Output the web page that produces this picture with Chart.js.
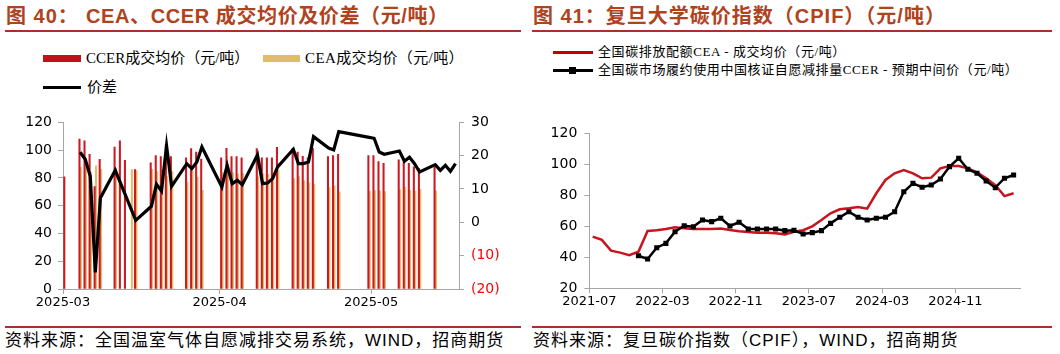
<!DOCTYPE html>
<html><head><meta charset="utf-8">
<script src="https://cdn.jsdelivr.net/npm/chart.js@4.4.1/dist/chart.umd.min.js"></script>
<style>
html,body{margin:0;padding:0;background:#fff;width:1060px;height:354px;overflow:hidden;position:relative;}
.abs{position:absolute;white-space:nowrap;}
.title{font-family:"Liberation Sans","Noto Sans CJK SC",sans-serif;font-weight:bold;font-size:20px;color:#B0421E;letter-spacing:1px;top:4px;line-height:24px;}
.rule{position:absolute;height:2px;background:#A8322A;}
.foot{font-family:"Liberation Sans","Noto Sans CJK SC",sans-serif;font-size:17px;color:#000;top:330px;line-height:22px;letter-spacing:1px;}
.lg{font-family:"Liberation Serif","Noto Sans CJK SC",serif;color:#000;}
.sw{position:absolute;}
canvas{position:absolute;}
</style>
</head><body>
<div class="abs title" style="left:6px;">图 40：</div>
<div class="abs title" style="left:86px;letter-spacing:0.6px;">CEA、CCER 成交均价及价差（元/吨）</div>
<div class="abs title" style="left:533px;">图 41：复旦大学碳价指数（CPIF）（元/吨）</div>
<div class="rule" style="left:5px;top:30px;width:516px;"></div>
<div class="rule" style="left:532px;top:30px;width:520px;"></div>

<!-- left legend -->
<div class="sw" style="left:43px;top:55px;width:38px;height:7px;background:#C0101A;"></div>
<div class="abs lg" style="left:86px;top:48px;font-size:15px;line-height:20px;">CCER成交均价（元/吨）</div>
<div class="sw" style="left:263px;top:55px;width:37px;height:7px;background:#E0BC6A;"></div>
<div class="abs lg" style="left:305px;top:48px;font-size:15px;line-height:20px;letter-spacing:0.4px;">CEA成交均价（元/吨）</div>
<div class="sw" style="left:43px;top:86px;width:38px;height:3px;background:#000;"></div>
<div class="abs lg" style="left:87px;top:77px;font-size:15px;line-height:20px;">价差</div>

<!-- right legend -->
<div class="sw" style="left:553px;top:51px;width:40px;height:3px;background:#C00000;"></div>
<div class="abs lg" style="left:598px;top:43px;font-size:13px;line-height:18px;letter-spacing:0.6px;">全国碳排放配额CEA - 成交均价（元/吨）</div>
<div class="sw" style="left:553px;top:69px;width:40px;height:3px;background:#000;"></div>
<div class="sw" style="left:569px;top:67px;width:7px;height:7px;background:#000;"></div>
<div class="abs lg" style="left:598px;top:61px;font-size:13px;line-height:18px;letter-spacing:0.6px;">全国碳市场履约使用中国核证自愿减排量CCER - 预期中间价（元/吨）</div>

<canvas id="c1" width="530" height="215" style="left:0px;top:100px;"></canvas>
<canvas id="c2" width="530" height="205" style="left:530px;top:110px;"></canvas>

<div class="rule" style="left:5px;top:326px;width:516px;height:1.5px;"></div>
<div class="rule" style="left:532px;top:326px;width:520px;height:1.5px;"></div>
<div class="abs foot" style="left:5px;">资料来源：全国温室气体自愿减排交易系统，WIND，招商期货</div>
<div class="abs foot" style="left:533px;">资料来源：复旦碳价指数（CPIF），WIND，招商期货</div>

<script>
// ---------- Figure 40 data (x = day position counted from 2025-03-01) ----------
const tradeDayPos = [0.4, 3.4, 4.4, 5.4, 6.4, 7.4, 10.35, 11.4, 12.4, 13.5, 14.4, 17.5, 18.5, 19.5, 20.5, 21.5,
  24.5, 25.5, 26.5, 27.5, 31.45, 32.5, 33.5, 34.5, 35.5, 38.5, 39.5, 40.5, 41.5, 42.5, 45.6, 46.6, 47.6, 48.6, 49.6,
  52.6, 53.6, 54.6, 60.6, 61.6, 62.6, 63.6, 66.6, 67.6, 68.6, 69.6, 70.6, 73.7];
const ccerPrice = [80.8, 108, 106.6, 97, 73.7, 93.4, 102.2, 106.6, 92.6, null, 85.9, 90.9, 96, 95.3, 104, 95.3,
  94.5, 101, 98.6, 93.6, 94.5, 101.3, 95.3, 95.3, 94.5, 101, 94.5, 94.5, 94.5, 102, 101.3, 98.6, 95.5, 94.5, 101.3,
  95.3, 96, 97, 96, 96, 91.7, 90.5, 92.9, 91.7, 90.5, 88, 86.9, 88];
const ceaPrice = [null, 87.6, 87.7, 84, 88.7, 86.1, 86.6, null, null, 86, 85.3, 86.1, 84.6, 85.9, 81, 84.5,
  76.9, 84.9, 80.5, 71, 83.9, 84.2, 83.7, 82.7, 83.2, 80.8, 82.9, 82.7, 81.4, 85.4, 79.4, 81, 77.9, 76.4, 75.6,
  73, 74.3, 69.8, 70.5, 70.8, 70.6, 70.1, 71.5, 73.4, 71, 70.4, 71.8, 70.7];
const spreadDayPos = [3.4, 4.4, 5.4, 6.4, 7.4, 10.35, 14.4, 17.5, 18.5, 19.5, 20.5, 21.5, 24.5, 25.5, 26.5, 27.5,
  31.45, 32.5, 33.5, 34.5, 35.5, 38.5, 39.5, 40.5, 41.5, 42.5, 45.6, 46.6, 47.6, 48.6, 49.6, 52.6, 53.6, 54.6,
  60.6, 61.6, 62.6, 63.6, 66.6, 67.6, 68.6, 69.6, 70.6, 73.7, 74.7, 75.7, 76.7, 77.7];
const spreadValue = [21.0, 18.9, 13.8, -15.0, 7.3, 15.6, 0.6, 4.8, 11.4, 9.4, 23.0, 10.8, 17.6, 16.1, 18.1, 22.6,
  10.6, 17.1, 11.6, 12.6, 11.3, 20.2, 11.6, 11.8, 13.1, 16.6, 21.9, 17.6, 17.6, 18.1, 25.7, 22.3, 21.7, 27.2,
  25.5, 25.2, 21.1, 20.4, 21.4, 18.3, 19.5, 17.6, 15.1, 17.3, 15.6, 17.1, 15.3, 17.6];
const leftTickPos = [0, 31, 61];
const leftTickLabels = ['2025-03', '2025-04', '2025-05'];

// ---------- Figure 41 data (monthly, from 2021-07) ----------
const cpifMonths = ['2021-07','2021-08','2021-09','2021-10','2021-11','2021-12','2022-01','2022-02','2022-03','2022-04',
  '2022-05','2022-06','2022-07','2022-08','2022-09','2022-10','2022-11','2022-12','2023-01','2023-02','2023-03',
  '2023-04','2023-05','2023-06','2023-07','2023-08','2023-09','2023-10','2023-11','2023-12','2024-01','2024-02',
  '2024-03','2024-04','2024-05','2024-06','2024-07','2024-08','2024-09','2024-10','2024-11','2024-12','2025-01',
  '2025-02','2025-03','2025-04','2025-05'];
const ceaAvg = [53.3, 51.2, 44.3, 43.0, 41.3, 43.6, 57.0, 57.4, 58.3, 59.4, 58.7, 58.3, 58.3, 58.3, 58.5, 57.6,
  56.8, 56.3, 55.9, 55.9, 55.5, 54.8, 56.5, 57.5, 60.0, 64.0, 68.4, 71.0, 71.6, 72.5, 71.4, 81.3, 89.9, 94.2,
  96.3, 94.2, 91.0, 91.4, 97.4, 98.9, 98.9, 97.4, 94.8, 91.0, 86.6, 79.5, 81.3];
const ccerMid = [null, null, null, null, null, 41.0, 38.9, 46.2, 49.0, 56.5, 60.4, 59.7, 64.1, 63.0, 65.2, 60.2,
  62.6, 58.3, 58.3, 58.3, 58.3, 57.2, 57.4, 55.0, 55.9, 57.2, 61.9, 65.8, 69.4, 65.8, 64.1, 65.2, 65.8, 69.4,
  82.3, 87.7, 85.2, 86.6, 90.5, 98.5, 103.9, 96.8, 94.2, 89.2, 84.9, 91.0, 93.1];
const rightTickMonths = ['2021-07', '2022-03', '2022-11', '2023-07', '2024-03', '2024-11'];
const POINT_IN_MONTH = 0.37; // observations dated around the 11th of each month

const tickFont = {family: 'DejaVu Sans', size: 14};
const axisGrey = '#A6A6A6';

function axisCommon() {
  return {
    offset: false,
    grid: {drawOnChartArea: false, drawTicks: true, tickLength: 5, color: axisGrey, offset: false},
    border: {color: axisGrey, width: 1}
  };
}

new Chart(document.getElementById('c1'), {
  data: {
    datasets: [
      {type: 'line', label: '价差', yAxisID: 'y1', order: 0,
       data: spreadDayPos.map((d, i) => ({x: d, y: spreadValue[i]})),
       borderColor: '#000', borderWidth: 3.2, pointRadius: 0, tension: 0, spanGaps: true},
      {type: 'bar', label: 'CCER成交均价（元/吨）', yAxisID: 'y', order: 1,
       data: tradeDayPos.map((d, i) => ({x: d, y: ccerPrice[i]})),
       backgroundColor: '#CC1A22', barThickness: 1.4},
      {type: 'bar', label: 'CEA成交均价（元/吨）', yAxisID: 'y', order: 1,
       data: tradeDayPos.map((d, i) => ({x: d, y: ceaPrice[i]})),
       backgroundColor: '#E2BC6A', barThickness: 1.4}
    ]
  },
  options: {
    responsive: false, animation: false, events: [],
    layout: {padding: {top: 22.3, left: 0, right: 0, bottom: 0}},
    plugins: {legend: {display: false}, tooltip: {enabled: false}},
    scales: {
      x: Object.assign(axisCommon(), {
        type: 'linear', min: 0, max: 78.4,
        afterBuildTicks: s => { s.ticks = leftTickPos.map(v => ({value: v})); },
        ticks: {callback: (v, i) => leftTickLabels[i], autoSkip: false, maxRotation: 0, font: {family: 'DejaVu Sans', size: 13}, color: '#000', padding: 1},
        afterFit: s => { s.height = 26; }
      }),
      y: Object.assign(axisCommon(), {
        position: 'left', min: 0, max: 120,
        ticks: {stepSize: 20, font: tickFont, color: '#000', padding: 6},
        afterFit: s => { s.width = 63; }
      }),
      y1: Object.assign(axisCommon(), {
        position: 'right', min: -20, max: 30,
        ticks: {stepSize: 10, font: tickFont, padding: 7,
          color: c => (c.tick && c.tick.value < 0) ? '#FF0000' : '#000',
          callback: v => v < 0 ? '(' + (-v) + ')' : String(v)},
        afterFit: s => { s.width = 71; }
      })
    }
  }
});

new Chart(document.getElementById('c2'), {
  type: 'line',
  data: {
    datasets: [
      {label: '全国碳市场履约使用中国核证自愿减排量CCER - 预期中间价（元/吨）', order: 0,
       data: cpifMonths.map((m, i) => ({x: i + POINT_IN_MONTH, y: ccerMid[i]})),
       borderColor: '#000', borderWidth: 2.5, pointStyle: 'rect', pointRadius: 3.6,
       pointBackgroundColor: '#000', pointBorderColor: '#000', pointBorderWidth: 0, tension: 0},
      {label: '全国碳排放配额CEA - 成交均价（元/吨）', order: 1,
       data: cpifMonths.map((m, i) => ({x: i + POINT_IN_MONTH, y: ceaAvg[i]})),
       borderColor: '#C8141E', borderWidth: 2.5, pointRadius: 0, tension: 0}
    ]
  },
  options: {
    responsive: false, animation: false, events: [],
    layout: {padding: {top: 23.3, left: 0, right: 40, bottom: 0}},
    plugins: {legend: {display: false}, tooltip: {enabled: false}},
    scales: {
      x: Object.assign(axisCommon(), {
        type: 'linear', min: 0, max: 47.07,
        afterBuildTicks: s => { s.ticks = rightTickMonths.map(m => ({value: cpifMonths.indexOf(m)})); },
        ticks: {callback: (v, i) => rightTickMonths[i], autoSkip: false, maxRotation: 0, font: {family: 'DejaVu Sans', size: 13}, color: '#000', padding: 1},
        afterFit: s => { s.height = 26.7; }
      }),
      y: Object.assign(axisCommon(), {
        min: 20, max: 120,
        ticks: {stepSize: 20, font: tickFont, color: '#000', padding: 7},
        afterFit: s => { s.width = 59.3; }
      })
    }
  }
});
</script>
</body></html>
